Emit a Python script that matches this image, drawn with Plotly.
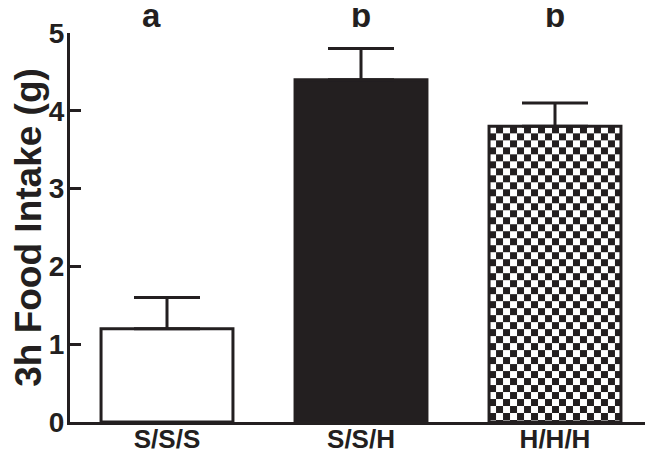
import base64
import plotly.graph_objects as go

# ---- data ----
categories = ["S/S/S", "S/S/H", "H/H/H"]
means = [1.2, 4.4, 3.8]
sem = [0.4, 0.4, 0.3]
sig_letters = ["a", "b", "b"]
y_ticks = [0, 1, 2, 3, 4, 5]

INK = "#231f20"
BAR_W = 0.68
Y_MAX = 5
xpos = list(range(len(categories)))

fills = ["white", INK, "rgba(0,0,0,0)"]

fig = go.Figure()
fig.add_trace(go.Bar(
    x=xpos, y=means, width=BAR_W,
    marker=dict(color=fills, line=dict(color=INK, width=3)),
    error_y=dict(type="data", array=sem, arrayminus=[0]*len(sem), symmetric=False,
                 color=INK, thickness=3, width=33),
    showlegend=False,
))

# checkerboard texture for the third bar
svg = (
    '<svg xmlns="http://www.w3.org/2000/svg" width="132" height="296" viewBox="0 0 132 296" '
    'preserveAspectRatio="none"><defs><pattern id="c" width="14" height="14" '
    'patternUnits="userSpaceOnUse"><rect width="14" height="14" fill="white"/>'
    f'<rect x="7" y="0" width="7" height="7" fill="{INK}"/>'
    f'<rect x="0" y="7" width="7" height="7" fill="{INK}"/></pattern></defs>'
    '<rect width="132" height="296" fill="url(#c)"/></svg>'
)
src = "data:image/svg+xml;base64," + base64.b64encode(svg.encode()).decode()
fig.add_layout_image(dict(
    source=src, xref="x", yref="y",
    x=xpos[2] - BAR_W / 2, y=means[2], sizex=BAR_W, sizey=means[2],
    xanchor="left", yanchor="top", sizing="stretch", layer="below",
))

shifts = [-16, 0, 0]
for xi, t, s in zip(xpos, sig_letters, shifts):
    fig.add_annotation(x=xi, y=1.044, xref="x", yref="paper", text=f"<b>{t}</b>",
                       showarrow=False, xshift=s, yanchor="middle",
                       font=dict(family="Liberation Sans", size=33, color=INK))

# page body adds an 8px offset; size the figure to fit the 653x460 window
fig.update_layout(
    width=645, height=452,
    margin=dict(l=62, r=1, t=25, b=38),
    paper_bgcolor="white", plot_bgcolor="rgba(0,0,0,0)",
    font=dict(family="Liberation Sans", color=INK),
    bargap=0.32,
)
fig.update_xaxes(
    range=[-0.5, 2.5], tickvals=xpos, ticktext=[f"<b>{c}</b>" for c in categories],
    showline=True, linewidth=3, linecolor=INK, showgrid=False, zeroline=False,
    ticks="", tickfont=dict(size=26, color=INK), ticklabelstandoff=-8, automargin=False,
)
fig.update_yaxes(
    range=[0, Y_MAX], tickvals=y_ticks, ticktext=[f"<b>{v}</b>" for v in y_ticks],
    showline=True, linewidth=3, linecolor=INK, showgrid=False, zeroline=False,
    ticks="inside", ticklen=11, tickwidth=3, tickcolor=INK,
    tickfont=dict(size=28, color=INK), automargin=False, ticklabelstandoff=-3,
    title=dict(text="<b>3h Food Intake (g)</b>", font=dict(size=37, color=INK), standoff=16),
)

fig.write_html("out.html")
